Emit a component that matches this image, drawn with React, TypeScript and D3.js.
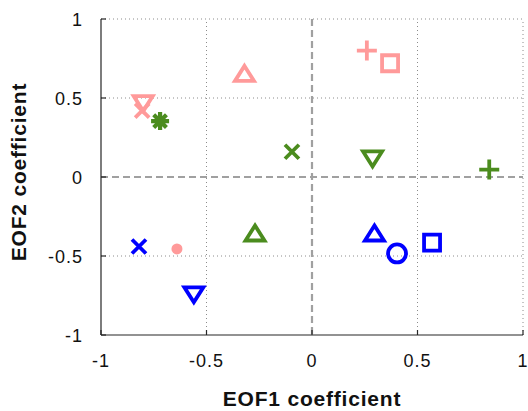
import { useEffect, useRef } from "react";
import * as d3 from "d3";

// EOF coefficients, one group per colour
const pinkX = [-0.32, -0.8, -0.805, 0.26, 0.37, -0.64];
const pinkY = [0.66, 0.46, 0.42, 0.8, 0.72, -0.455];
const pinkMarkers = ["triangleUp", "triangleDown", "x", "plus", "square", "dot"];

const greenX = [-0.72, -0.095, 0.287, 0.84, -0.27];
const greenY = [0.354, 0.16, 0.11, 0.047, -0.35];
const greenMarkers = ["asterisk", "x", "triangleDown", "plus", "triangleUp"];

const blueX = [-0.82, -0.56, 0.296, 0.403, 0.569];
const blueY = [-0.44, -0.75, -0.35, -0.484, -0.415];
const blueMarkers = ["x", "triangleDown", "triangleUp", "circle", "square"];

const ticks = [-1, -0.5, 0, 0.5, 1];
const tickLabels = ["-1", "-0.5", "0", "0.5", "1"];

const W = 528;
const H = 411;

const markerPath = (type: string) => {
  const p = d3.path();
  if (type === "triangleUp") {
    p.moveTo(0, -6.8); p.lineTo(9.5, 8.2); p.lineTo(-9.5, 8.2); p.closePath();
  } else if (type === "triangleDown") {
    p.moveTo(0, 6.8); p.lineTo(9.5, -8.2); p.lineTo(-9.5, -8.2); p.closePath();
  } else if (type === "square") {
    p.rect(-8, -8, 16, 16);
  } else if (type === "circle") {
    p.arc(0, 0, 9, 0, 2 * Math.PI);
  } else if (type === "plus") {
    p.moveTo(-10, 0); p.lineTo(10, 0); p.moveTo(0, -10); p.lineTo(0, 10);
  } else if (type === "x") {
    p.moveTo(-7, -7); p.lineTo(7, 7); p.moveTo(-7, 7); p.lineTo(7, -7);
  } else if (type === "asterisk") {
    for (let k = 0; k < 4; k++) {
      const a = (k * Math.PI) / 4;
      p.moveTo(-9 * Math.cos(a), -9 * Math.sin(a));
      p.lineTo(9 * Math.cos(a), 9 * Math.sin(a));
    }
  } else if (type === "dot") {
    p.arc(0, 0, 5.5, 0, 2 * Math.PI);
  }
  return p.toString();
};

export default function App() {
  const ref = useRef<SVGSVGElement>(null);

  useEffect(() => {
    const svg = d3.select(ref.current);
    svg.selectAll("*").remove();

    const x = d3.scaleLinear().domain([-1, 1]).range([101, 523]);
    const y = d3.scaleLinear().domain([-1, 1]).range([335, 19]);

    // dotted grid
    const grid = svg.append("g").attr("stroke", "#8c8c8c").attr("stroke-width", 1).attr("stroke-dasharray", "1,3");
    ticks.filter((t) => t !== 0 && t !== -1).forEach((t) => {
      grid.append("line").attr("x1", x(t)).attr("x2", x(t)).attr("y1", y(-1)).attr("y2", y(1));
      grid.append("line").attr("x1", x(-1)).attr("x2", x(1)).attr("y1", y(t)).attr("y2", y(t));
    });

    // dashed zero lines
    const zero = svg.append("g").attr("stroke", "#a0a0a0").attr("stroke-width", 2.2).attr("stroke-dasharray", "7,4");
    zero.append("line").attr("x1", x(0)).attr("x2", x(0)).attr("y1", y(1)).attr("y2", y(-1));
    zero.append("line").attr("x1", x(-1)).attr("x2", x(1)).attr("y1", y(0)).attr("y2", y(0));

    // axes
    const ax = svg.append("g").attr("stroke", "#262626").attr("stroke-width", 1.2);
    ax.append("line").attr("x1", x(-1)).attr("x2", x(-1)).attr("y1", y(1)).attr("y2", y(-1));
    ax.append("line").attr("x1", x(-1)).attr("x2", x(1)).attr("y1", y(-1)).attr("y2", y(-1));
    ticks.forEach((t) => {
      ax.append("line").attr("x1", x(-1)).attr("x2", x(-1) + 5).attr("y1", y(t)).attr("y2", y(t));
      ax.append("line").attr("x1", x(t)).attr("x2", x(t)).attr("y1", y(-1)).attr("y2", y(-1) - 5);
    });

    const font = "'Liberation Sans', Arial, Helvetica, sans-serif";
    const tl = svg.append("g").attr("font-family", font).attr("font-size", 18).attr("fill", "#111");
    ticks.forEach((t, i) => {
      tl.append("text").attr("x", x(t)).attr("y", 367).attr("text-anchor", "middle")
        .attr("letter-spacing", 1).text(tickLabels[i]);
      tl.append("text").attr("x", 83).attr("y", y(t) + 6.5).attr("text-anchor", "end")
        .attr("letter-spacing", 1).text(tickLabels[i]);
    });

    svg.append("text").attr("x", 312).attr("y", 406).attr("text-anchor", "middle")
      .attr("font-family", font).attr("font-weight", "bold").attr("font-size", 21)
      .attr("letter-spacing", 0.8).attr("fill", "#111").text("EOF1 coefficient");
    svg.append("text").attr("transform", "translate(26,172) rotate(-90)").attr("text-anchor", "middle")
      .attr("font-family", font).attr("font-weight", "bold").attr("font-size", 21)
      .attr("letter-spacing", 0.8).attr("fill", "#111").text("EOF2 coefficient");

    const groups = [
      { xs: pinkX, ys: pinkY, ms: pinkMarkers, color: "#ff9a9a" },
      { xs: greenX, ys: greenY, ms: greenMarkers, color: "#4b8c1e" },
      { xs: blueX, ys: blueY, ms: blueMarkers, color: "#0000ff" },
    ];
    groups.forEach((g) => {
      svg.append("g").selectAll("path").data(d3.range(g.xs.length)).join("path")
        .attr("transform", (i) => `translate(${x(g.xs[i])},${y(g.ys[i])})`)
        .attr("d", (i) => markerPath(g.ms[i]))
        .attr("fill", (i) => (g.ms[i] === "dot" ? g.color : "none"))
        .attr("stroke", (i) => (g.ms[i] === "dot" ? "none" : g.color))
        .attr("stroke-width", (i) => (g.ms[i] === "asterisk" ? 4.2 : 3.8))
        .attr("stroke-linejoin", "miter");
    });
  }, []);

  return (
    <svg ref={ref} width={W} height={H} style={{ position: "absolute", left: 0, top: 0, background: "#fff" }} />
  );
}
